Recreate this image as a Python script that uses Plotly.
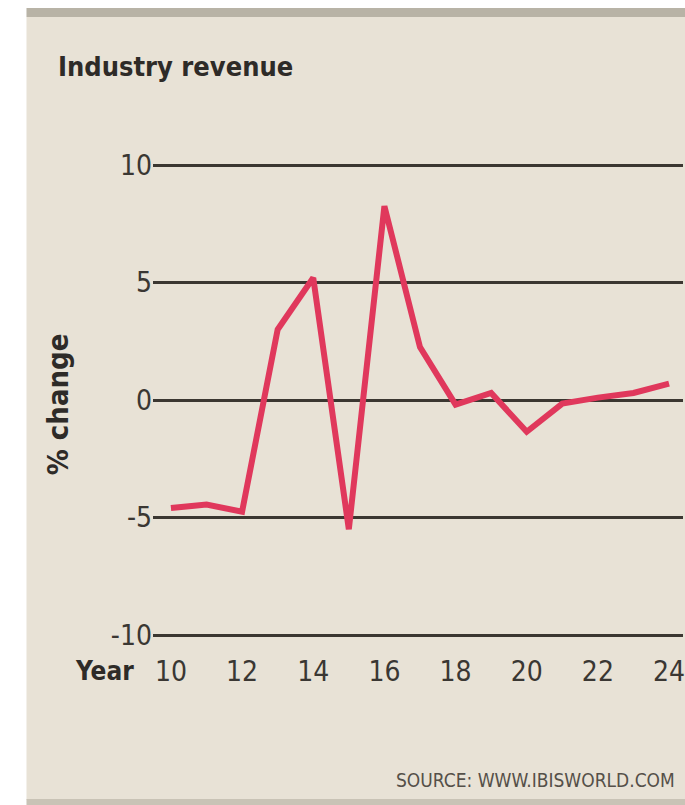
import plotly.graph_objects as go

# Data
years = [10, 11, 12, 13, 14, 15, 16, 17, 18, 19, 20, 21, 22, 23, 24]
pct_change = [-4.6, -4.45, -4.75, 3.0, 5.2, -5.5, 8.25, 2.25, -0.2, 0.3, -1.35, -0.15, 0.1, 0.3, 0.7]
x_ticks = [10, 12, 14, 16, 18, 20, 22, 24]
x_tick_labels = ["10", "12", "14", "16", "18", "20", "22", "24"]
y_ticks = [10, 5, 0, -5, -10]
y_tick_labels = ["10", "5", "0", "-5", "-10"]

W, H = 685, 805
L, R, T, B = 153, 0, 160, 165
PW, PH = W - L - R, H - T - B

def px(x):
    return (x - L) / PW

def py(y):
    return (H - B - y) / PH

FONT = "DejaVu Sans Condensed, Liberation Sans Narrow, Roboto Condensed, sans-serif"
BEIGE = "#e8e2d6"

fig = go.Figure()
fig.add_trace(go.Scatter(
    x=years, y=pct_change, mode="lines",
    line=dict(color="#e0385c", width=6),
    hoverinfo="skip", showlegend=False,
))

shapes = [
    dict(type="rect", xref="paper", yref="paper", x0=px(26), x1=px(690), y0=py(17), y1=py(800),
         fillcolor=BEIGE, line=dict(width=0), layer="below"),
    dict(type="rect", xref="paper", yref="paper", x0=px(26), x1=px(690), y0=py(8), y1=py(17),
         fillcolor="#b8b3a6", line=dict(width=0), layer="below"),
    dict(type="rect", xref="paper", yref="paper", x0=px(26), x1=px(690), y0=py(799), y1=py(806),
         fillcolor="#c9c3b6", line=dict(width=0), layer="below"),
]

annotations = [
    dict(text="Industry revenue", xref="paper", yref="paper", x=px(56), y=py(67),
         xanchor="left", yanchor="middle", showarrow=False,
         font=dict(family=FONT, size=27, color="#2e2b28", weight="bold")),
    dict(text="% change", xref="paper", yref="paper", x=px(58), y=py(404),
         xanchor="center", yanchor="middle", showarrow=False, textangle=-90,
         font=dict(family=FONT, size=29, color="#2e2b28", weight="bold")),
    dict(text="Year", xref="paper", yref="paper", x=px(136), y=py(671),
         xanchor="right", yanchor="middle", showarrow=False,
         font=dict(family=FONT, size=26, color="#2e2b28", weight="bold")),
    dict(text="SOURCE: WWW.IBISWORLD.COM", xref="paper", yref="paper", x=px(395), y=py(780),
         xanchor="left", yanchor="middle", showarrow=False,
         font=dict(family=FONT, size=19, color="#555049")),
]

fig.update_layout(
    width=W, height=H,
    margin=dict(l=L, r=R, t=T, b=B, pad=0),
    paper_bgcolor="white",
    plot_bgcolor="rgba(0,0,0,0)",
    shapes=shapes,
    annotations=annotations,
    xaxis=dict(
        range=[10 - 18 / 35.71, 24 + 14 / 35.71],
        tickvals=x_ticks, ticktext=x_tick_labels,
        showgrid=False, zeroline=False, showline=False,
        ticks="outside", ticklen=6, tickcolor="rgba(0,0,0,0)",
        ticklabeloverflow="allow",
        tickfont=dict(family=FONT, size=28, color="#3a3733"),
        fixedrange=True,
    ),
    yaxis=dict(
        range=[(400 - 640) / 23.5, (400 - 160) / 23.5],
        tickvals=y_ticks, ticktext=y_tick_labels,
        showgrid=True, gridcolor="#3b3731", gridwidth=3,
        zeroline=False, showline=False,
        ticks="", ticklen=0,
        ticklabeloverflow="allow",
        tickfont=dict(family=FONT, size=28, color="#3a3733"),
        fixedrange=True,
    ),
)

fig.write_html(
    "out.html",
    config={"displayModeBar": False, "staticPlot": True},
    post_script="document.body.style.margin='0';document.body.style.overflow='hidden';",
)
